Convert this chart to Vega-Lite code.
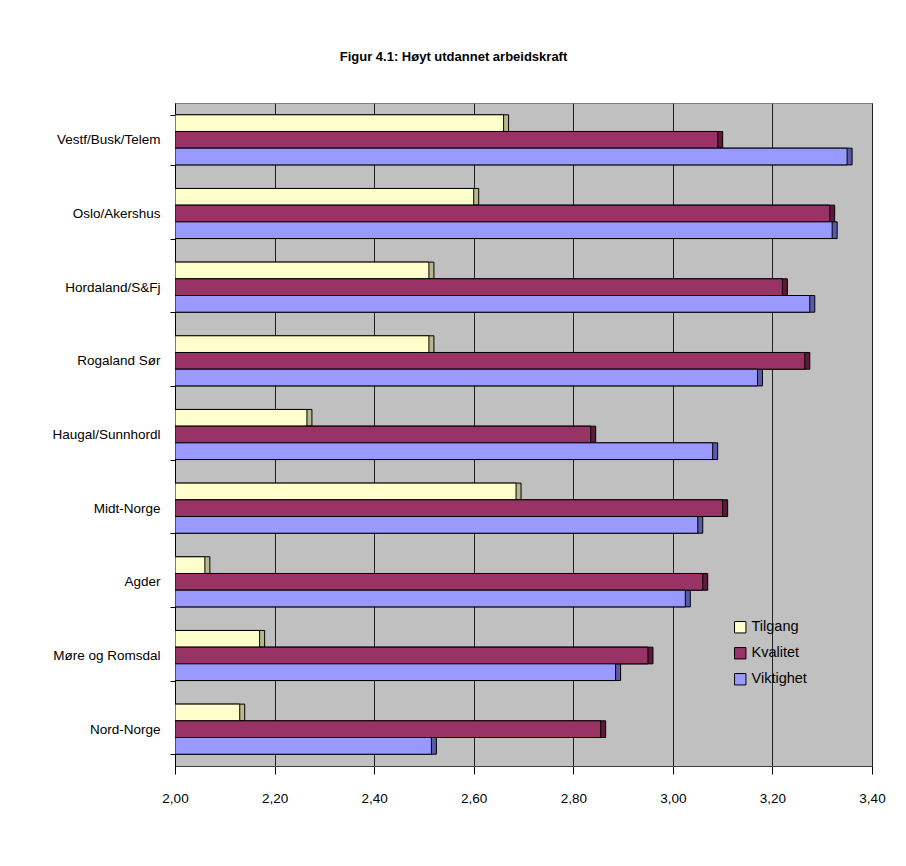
{
  "$schema": "https://vega.github.io/schema/vega-lite/v6.json",
  "autosize": {"type": "none"},
  "width": 697,
  "height": 663,
  "padding": {"left": 175, "top": 103, "right": 34, "bottom": 100},
  "background": "white",
  "title": {
    "text": "Figur 4.1: Høyt utdannet arbeidskraft",
    "font": "Liberation Sans",
    "fontSize": 13,
    "fontWeight": "bold",
    "color": "black",
    "anchor": "middle",
    "dx": -70,
    "offset": 19,
    "baseline": "bottom"
  },
  "config": {
    "view": {"fill": "#C0C0C0", "stroke": "#808080", "strokeWidth": 1},
    "font": "Liberation Sans"
  },
  "data": {
    "values": [
      {"region": "Vestf/Busk/Telem", "serie": "Tilgang", "value": 2.66},
      {"region": "Vestf/Busk/Telem", "serie": "Kvalitet", "value": 3.09},
      {"region": "Vestf/Busk/Telem", "serie": "Viktighet", "value": 3.35},
      {"region": "Oslo/Akershus", "serie": "Tilgang", "value": 2.60},
      {"region": "Oslo/Akershus", "serie": "Kvalitet", "value": 3.315},
      {"region": "Oslo/Akershus", "serie": "Viktighet", "value": 3.32},
      {"region": "Hordaland/S&Fj", "serie": "Tilgang", "value": 2.51},
      {"region": "Hordaland/S&Fj", "serie": "Kvalitet", "value": 3.22},
      {"region": "Hordaland/S&Fj", "serie": "Viktighet", "value": 3.275},
      {"region": "Rogaland Sør", "serie": "Tilgang", "value": 2.51},
      {"region": "Rogaland Sør", "serie": "Kvalitet", "value": 3.265},
      {"region": "Rogaland Sør", "serie": "Viktighet", "value": 3.17},
      {"region": "Haugal/Sunnhordl", "serie": "Tilgang", "value": 2.265},
      {"region": "Haugal/Sunnhordl", "serie": "Kvalitet", "value": 2.835},
      {"region": "Haugal/Sunnhordl", "serie": "Viktighet", "value": 3.08},
      {"region": "Midt-Norge", "serie": "Tilgang", "value": 2.685},
      {"region": "Midt-Norge", "serie": "Kvalitet", "value": 3.10},
      {"region": "Midt-Norge", "serie": "Viktighet", "value": 3.05},
      {"region": "Agder", "serie": "Tilgang", "value": 2.06},
      {"region": "Agder", "serie": "Kvalitet", "value": 3.06},
      {"region": "Agder", "serie": "Viktighet", "value": 3.025},
      {"region": "Møre og Romsdal", "serie": "Tilgang", "value": 2.17},
      {"region": "Møre og Romsdal", "serie": "Kvalitet", "value": 2.95},
      {"region": "Møre og Romsdal", "serie": "Viktighet", "value": 2.885},
      {"region": "Nord-Norge", "serie": "Tilgang", "value": 2.13},
      {"region": "Nord-Norge", "serie": "Kvalitet", "value": 2.855},
      {"region": "Nord-Norge", "serie": "Viktighet", "value": 2.515}
    ]
  },
  "encoding": {
    "y": {
      "field": "region",
      "type": "nominal",
      "sort": null,
      "title": null,
      "scale": {"paddingInner": 0.32, "paddingOuter": 0.16},
      "axis": {
        "labelFont": "Liberation Sans",
        "labelFontSize": 13.5,
        "labelColor": "black",
        "labelPadding": 10,
        "domainColor": "black",
        "tickColor": "black",
        "tickBand": "extent",
        "tickSize": 5,
        "grid": false
      }
    },
    "x": {
      "field": "value",
      "type": "quantitative",
      "title": null,
      "scale": {"domain": [2, 3.4], "zero": false, "nice": false},
      "axis": {
        "values": [2, 2.2, 2.4, 2.6, 2.8, 3.0, 3.2, 3.4],
        "labelExpr": "replace(format(datum.value, '.2f'), '.', ',')",
        "labelFont": "Liberation Sans",
        "labelFontSize": 13.5,
        "labelColor": "black",
        "labelPadding": 17,
        "labelFlush": false,
        "labelOverlap": false,
        "domainColor": "#404040",
        "tickColor": "black",
        "tickSize": 8,
        "grid": true,
        "gridColor": "#202020",
        "gridWidth": 1
      }
    },
    "x2": {"datum": 2},
    "yOffset": {
      "field": "serie",
      "type": "nominal",
      "sort": ["Tilgang", "Kvalitet", "Viktighet"],
      "scale": {"paddingInner": 0, "paddingOuter": 0}
    }
  },
  "layer": [
    {
      "mark": {"type": "bar", "xOffset": 5, "yOffset": -5, "stroke": "black", "strokeWidth": 1, "clip": true},
      "encoding": {
        "color": {
          "field": "serie",
          "type": "nominal",
          "scale": {"domain": ["Tilgang", "Kvalitet", "Viktighet"], "range": ["#B8B890", "#5A1A3A", "#5A5AA8"]},
          "legend": null
        }
      }
    },
    {
      "mark": {"type": "bar", "stroke": "black", "strokeWidth": 1, "clip": true},
      "encoding": {
        "color": {
          "field": "serie",
          "type": "nominal",
          "scale": {"domain": ["Tilgang", "Kvalitet", "Viktighet"], "range": ["#FFFFCC", "#993366", "#9999FF"]},
          "legend": {
            "title": null,
            "orient": "none",
            "legendX": 558,
            "legendY": 517,
            "symbolType": "square",
            "symbolSize": 130,
            "symbolStrokeColor": "black",
            "symbolStrokeWidth": 1,
            "labelFont": "Liberation Sans",
            "labelFontSize": 14.5,
            "labelColor": "black",
            "rowPadding": 10,
            "labelOffset": 4
          }
        }
      }
    }
  ],
  "resolve": {"scale": {"color": "independent"}}
}
